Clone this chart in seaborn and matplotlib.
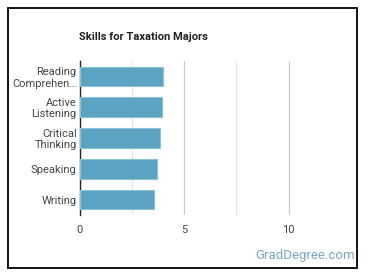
import matplotlib
matplotlib.use("Agg")
import matplotlib.pyplot as plt
import seaborn as sns
import pandas as pd
from matplotlib.patches import Rectangle

skills = ["Reading\nComprehen…", "Active\nListening", "Critical\nThinking", "Speaking", "Writing"]
values = [4.0, 3.96, 3.86, 3.72, 3.58]
xticks = [0, 5, 10]

sns.set_theme(style="white")
plt.rcParams['font.family'] = ['Roboto', 'DejaVu Sans']

W, H = 370, 278
fig = plt.figure(figsize=(W / 100, H / 100), dpi=100)
left, right, top, bottom = 79.5, 341, 61, 215
ax = fig.add_axes([left / W, 1 - bottom / H, (right - left) / W, (bottom - top) / H])

df = pd.DataFrame({"skill": skills, "value": values})
sns.barplot(data=df, x="value", y="skill", ax=ax, color="#5ba3c1", width=0.63,
            saturation=1, edgecolor="#8cc2d8", linewidth=0.8, zorder=3)

ax.set_xlim(0, 12.5)
ax.set_ylim(4.5, -0.5)
ax.set_xticks(xticks)
ax.set_xticks([2.5, 7.5], minor=True)
ax.grid(axis="x", which="major", color="#cccccc", linewidth=0.9, zorder=0)
ax.grid(axis="x", which="minor", color="#e6e6e6", linewidth=0.9, zorder=0)
ax.set_xlabel("")
ax.set_ylabel("")
for s in ["top", "right", "bottom"]:
    ax.spines[s].set_visible(False)
ax.spines["left"].set_color("#222222")
ax.spines["left"].set_linewidth(1.0)
ax.tick_params(axis="both", which="both", length=0, labelsize=8, labelcolor="#444444")
ax.tick_params(axis="x", pad=7)
ax.tick_params(axis="y", pad=2)
for lbl in ax.get_yticklabels():
    lbl.set_linespacing(1.15)

fig.text(79 / W, 1 - 37 / H, "Skills for Taxation Majors", fontsize=8, fontweight="bold",
         color="#222222", ha="left", va="center")
fig.text(355 / W, 1 - 256 / H, "GradDegree.com", fontsize=9.5, color="#7ba7c4",
         ha="right", va="center")

fig.patches.append(Rectangle((8 / W, 1 - 268 / H), (357 - 8) / W, (268 - 8) / H,
                             transform=fig.transFigure, fill=False, edgecolor="black",
                             linewidth=1.3, zorder=10))

fig.savefig("out.png", dpi=100)
